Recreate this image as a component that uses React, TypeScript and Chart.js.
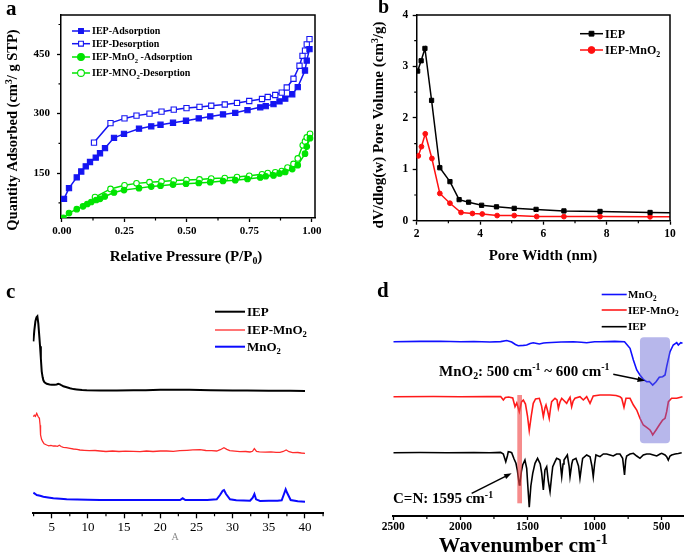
import React, { useEffect, useRef } from 'react';
import { Chart, registerables } from 'chart.js';

Chart.register(...registerables);

const SERIF = '"Liberation Serif", "Times New Roman", Times, serif';

// ================= (a) N2 adsorption / desorption isotherms =================
const isoLabels = ['IEP-Adsorption', 'IEP-Desorption', 'IEP-MnO_{2} -Adsorption', 'IEP-MNO_{2}-Desorption'];
const iepAdsP = [0.009, 0.029, 0.06, 0.078, 0.096, 0.113, 0.136, 0.153, 0.173, 0.209, 0.249, 0.309, 0.358, 0.395, 0.445, 0.497, 0.548, 0.594, 0.645, 0.694, 0.743, 0.794, 0.816, 0.847, 0.871, 0.894, 0.922, 0.944, 0.973, 0.98, 0.991];
const iepAdsQ = [85, 112, 139, 154, 167, 178, 189, 200, 213, 239, 249, 262, 268, 272, 277, 282, 288, 293, 298, 302, 309, 316, 319, 324, 331, 338, 349, 367, 409, 434, 463];
const iepDesP = [0.129, 0.195, 0.251, 0.299, 0.351, 0.399, 0.448, 0.499, 0.551, 0.598, 0.652, 0.701, 0.75, 0.801, 0.824, 0.854, 0.88, 0.9, 0.927, 0.951, 0.963, 0.973, 0.98, 0.991];
const iepDesQ = [227, 276, 288, 295, 300, 305, 310, 314, 317, 320, 323, 327, 332, 337, 342, 347, 353, 366, 388, 421, 446, 459, 475, 488];
const mnAdsP = [0.007, 0.029, 0.06, 0.085, 0.102, 0.118, 0.138, 0.153, 0.172, 0.209, 0.249, 0.309, 0.358, 0.395, 0.445, 0.497, 0.548, 0.594, 0.645, 0.694, 0.743, 0.794, 0.816, 0.847, 0.871, 0.894, 0.922, 0.944, 0.973, 0.98, 0.993];
const mnAdsQ = [37, 49, 59, 66, 72, 77, 82, 85, 91, 101, 107, 112, 116, 118, 121, 123, 125, 127, 130, 132, 135, 139, 142, 144, 149, 153, 160, 170, 199, 217, 238];
const mnDesP = [0.133, 0.195, 0.251, 0.299, 0.351, 0.399, 0.448, 0.499, 0.551, 0.598, 0.652, 0.701, 0.75, 0.801, 0.824, 0.854, 0.88, 0.903, 0.927, 0.944, 0.964, 0.973, 0.98, 0.993];
const mnDesQ = [89.5, 110, 119, 124, 127, 129, 131, 132.5, 134, 136, 137.5, 140, 143, 147, 150, 152, 155, 164, 173, 187, 220, 230, 240, 249];
const isoTicksX = [0, 0.25, 0.5, 0.75, 1.0];
const isoTicksY = [150, 300, 450];

// ================= (b) pore size distribution =================
const psdLabels = ['IEP', 'IEP-MnO_{2}'];
const psdIepW = [2.03, 2.14, 2.26, 2.47, 2.73, 3.05, 3.34, 3.64, 4.05, 4.52, 5.08, 5.77, 6.65, 7.79, 9.37, 10];
const psdIepV = [2.91, 3.11, 3.35, 2.34, 1.03, 0.76, 0.41, 0.36, 0.3, 0.27, 0.24, 0.22, 0.19, 0.18, 0.16, 0.155];
const psdMnW = [2.05, 2.15, 2.27, 2.48, 2.73, 3.05, 3.4, 3.76, 4.07, 4.54, 5.08, 5.79, 6.65, 7.79, 9.37, 10];
const psdMnV = [1.26, 1.44, 1.69, 1.21, 0.53, 0.34, 0.16, 0.14, 0.13, 0.1, 0.1, 0.08, 0.08, 0.08, 0.075, 0.075];
const psdTicksX = [2, 4, 6, 8, 10];
const psdTicksY = [0, 1, 2, 3, 4];

// ================= (c) XRD patterns (stacked, a.u.) =================
const xrdLabels = ['IEP', 'IEP-MnO_{2}', 'MnO_{2}'];
const xrdIepX = [2.47, 2.6, 2.75, 2.9, 3.02, 3.15, 3.3, 3.39, 3.5, 3.62, 3.75, 3.85, 4.0, 4.31, 4.7, 5.0, 5.4, 5.69, 5.9, 6.15, 6.4, 6.61, 7.07, 7.53, 8.0, 8.45, 9.2, 9.84, 11.7, 14, 16.3, 18, 20, 22, 24, 25.5, 27, 30, 32, 35, 38, 40];
const xrdIepI = [172, 183, 192, 196, 197, 190, 176, 167, 155, 142, 136, 133, 131, 129.5, 128.8, 128.5, 128.5, 128.8, 129.5, 129, 127.8, 127, 126, 125, 124.2, 123.8, 123.2, 123, 122.8, 122.8, 123, 123, 123.5, 123.6, 123.5, 123.3, 123, 122.8, 122.7, 122.6, 122.5, 122.4];
const xrdCompX = [2.46, 2.6, 2.75, 2.93, 3.1, 3.3, 3.4, 3.46, 3.6, 3.76, 3.95, 4.31, 4.6, 4.9, 5.23, 5.5, 5.8, 6.06, 6.3, 6.61, 7.0, 7.53, 8.0, 8.5, 8.9, 9.5, 10.2, 11.0, 11.7, 12.5, 13.4, 14.3, 15.2, 16.3, 17.2, 18.1, 19.0, 20.0, 20.9, 21.8, 22.7, 23.7, 24.5, 25.5, 26.3, 27.1, 27.8, 28.3, 28.8, 29.2, 29.6, 30.3, 31.0, 31.8, 32.4, 32.75, 33.0, 33.3, 33.7, 34.5, 35.3, 36.0, 36.55, 37.0, 37.4, 37.8, 38.3, 39.0, 39.5, 40.0];
const xrdCompI = [96.6, 98, 97, 100, 97, 95, 88, 78.3, 74, 71.6, 69.5, 68.3, 67.5, 68, 67.3, 67.5, 67, 68, 66.8, 66, 65.6, 65, 64.3, 64, 63.3, 63, 62.6, 62.8, 62.3, 61.8, 62.3, 61.8, 62.2, 62, 61.7, 62.3, 61.8, 62.3, 62.3, 62, 62.6, 63, 63.4, 63.6, 62.8, 62.6, 62.3, 63.6, 65.6, 64, 62.6, 62.2, 61.6, 61.8, 61.3, 62, 64.6, 61.8, 61.5, 61.2, 61.5, 61, 61, 61.8, 63.3, 61.6, 60.6, 60.8, 60.3, 60];
const xrdMnX = [2.47, 2.7, 2.93, 3.4, 3.85, 4.5, 5.23, 6.2, 7.07, 8.5, 10, 11.68, 14, 16.5, 19, 21, 22.73, 23.1, 23.47, 25, 26.5, 27.8, 28.26, 28.63, 28.81, 29.09, 29.64, 30.5, 31.5, 32.41, 32.78, 33.01, 33.24, 33.79, 35, 36.2, 36.78, 37.1, 37.33, 37.56, 38.02, 39, 40];
const xrdMnI = [20.6, 19.5, 18.3, 17.5, 16.6, 15.8, 15, 14.5, 14, 13.8, 13.5, 13.3, 13.2, 13.3, 13.2, 13.3, 13.3, 15, 13.3, 13.2, 13.3, 14, 18.3, 22.6, 23.3, 19.3, 14, 13, 12.8, 12.6, 15.6, 19.3, 14, 12.3, 12.5, 12.5, 13, 19.3, 24, 20, 13.3, 12, 11.6];
const xrdTicksX = [5, 10, 15, 20, 25, 30, 35, 40];

// ================= (d) FTIR spectra (stacked, a.u.) =================
const ftirLabels = ['MnO_{2}', 'IEP-MnO_{2}', 'IEP'];
const ftirMnWn = [2500, 2300, 2150, 2000, 1900, 1780, 1700, 1655, 1618, 1590, 1569, 1530, 1506, 1480, 1457, 1430, 1412, 1380, 1357, 1250, 1159, 1100, 1059, 1000, 960, 850, 777, 736, 711, 686, 662, 637, 612, 592, 567, 542, 518, 493, 475, 463, 438, 414, 388, 376, 358, 345];
const ftirMnT = [174.3, 174.6, 174.7, 174.3, 174.5, 174.0, 174.4, 175.5, 174.0, 171.5, 170.3, 170.6, 171.0, 172.5, 173.3, 172.5, 172.0, 173.0, 173.3, 174.0, 174.3, 173.8, 173.3, 174.2, 174.3, 174.6, 174.3, 167.7, 156, 146, 141, 136.7, 134.3, 134.5, 131, 134.3, 138.7, 139.3, 141, 149.3, 164.3, 171, 173.3, 171, 173.3, 172.7];
const ftirCompWn = [2500, 2200, 2000, 1800, 1700, 1680, 1665, 1640, 1610, 1593, 1580, 1561, 1545, 1531, 1515, 1500, 1487, 1472, 1457, 1440, 1412, 1395, 1382, 1370, 1362, 1350, 1338, 1328, 1320, 1295, 1280, 1270, 1258, 1245, 1208, 1195, 1183, 1171, 1160, 1146, 1109, 1084, 1059, 1034, 1020, 1010, 960, 885, 840, 811, 798, 781, 766, 736, 711, 686, 662, 637, 612, 587, 575, 567, 542, 518, 493, 475, 463, 450, 426, 388, 345];
const ftirCompT = [119.3, 119.5, 119.2, 119.4, 119.5, 116, 118.5, 119, 118, 109.3, 113, 104.3, 114, 116, 112, 100, 85.3, 100, 112.7, 117, 117.7, 110, 99.3, 108, 111, 105, 97.7, 108, 114.3, 117.7, 116, 107.7, 114, 117.7, 112.7, 116, 118.7, 109.3, 115, 117.7, 119.3, 116, 119.3, 112.7, 117, 120, 121, 121, 120.5, 119.3, 117.7, 108.7, 117.7, 117.7, 111, 106, 97.7, 91, 88.7, 86, 83.3, 81, 86, 91, 96, 97.7, 104.3, 114.3, 117.7, 117.7, 119.3];
const ftirIepWn = [2500, 2300, 2100, 1900, 1780, 1700, 1680, 1662, 1650, 1643, 1630, 1618, 1600, 1586, 1576, 1561, 1556, 1545, 1536, 1519, 1506, 1495, 1487, 1475, 1461, 1444, 1425, 1405, 1394, 1382, 1370, 1357, 1345, 1332, 1320, 1312, 1295, 1283, 1270, 1258, 1245, 1235, 1228, 1203, 1190, 1183, 1170, 1163, 1139, 1120, 1109, 1095, 1089, 1059, 1034, 1020, 1010, 1000, 990, 960, 935, 910, 885, 861, 836, 811, 791, 777, 768, 761, 736, 711, 686, 662, 637, 612, 587, 562, 537, 512, 500, 475, 463, 451, 438, 426, 400, 376, 351];
const ftirIepT = [63.3, 63.5, 63.2, 63.4, 63.3, 63.6, 62, 54.3, 60, 64.3, 64, 63.3, 57, 52.7, 46, 31, 33, 45, 51, 56, 47.7, 25, 8.7, 30, 42.7, 52.7, 57.7, 52, 42.7, 26, 46, 49.3, 35, 24.3, 40, 49.3, 54.3, 57.7, 57, 56, 39.3, 52, 56, 61, 50, 39.3, 52, 56, 57.7, 50, 37.7, 52, 57.7, 61, 59.3, 50, 39.3, 52, 61, 59.3, 62, 62, 61, 60, 62, 62, 57.7, 41, 56, 60, 62, 62.7, 60, 57.7, 61, 62, 62, 61, 60, 62, 62.7, 61, 59.3, 56, 60, 61, 62, 62.5, 63.3];
const ftirTicksX = [2500, 2000, 1500, 1000, 500];
const mnBandRange = [662, 438]; // shaded band (cm-1)
const mnBandT = [178.7, 72.7];
const cnBandRange = [1576, 1541]; // C=N highlight (cm-1)
const cnBandT = [121, 12.7];

// ================= helpers =================
const pts = (xs: number[], ys: number[]) => xs.map((x, i) => ({ x, y: ys[i] }));

type Part = { t: string; m: number };
function parseRich(s: string): Part[] {
  const out: Part[] = [];
  const re = /(\^\{[^}]*\}|_\{[^}]*\})/g;
  let last = 0;
  let m: RegExpExecArray | null;
  while ((m = re.exec(s))) {
    if (m.index > last) out.push({ t: s.slice(last, m.index), m: 0 });
    const tok = m[0];
    out.push({ t: tok.slice(2, -1), m: tok[0] === '^' ? 1 : -1 });
    last = m.index + tok.length;
  }
  if (last < s.length) out.push({ t: s.slice(last), m: 0 });
  return out;
}

function drawRich(ctx: CanvasRenderingContext2D, s: string, x: number, y: number, size: number,
  o: { weight?: string; align?: string; color?: string; rot?: number } = {}) {
  const parts = parseRich(s);
  const weight = o.weight ?? 'bold';
  const small = size * 0.66;
  const fontOf = (p: Part) => `${weight} ${p.m ? small : size}px ${SERIF}`;
  let w = 0;
  for (const p of parts) { ctx.font = fontOf(p); w += ctx.measureText(p.t).width; }
  ctx.save();
  ctx.translate(x, y);
  if (o.rot) ctx.rotate(o.rot);
  let cx = o.align === 'center' ? -w / 2 : o.align === 'right' ? -w : 0;
  ctx.fillStyle = o.color ?? '#000';
  ctx.textBaseline = 'alphabetic';
  ctx.textAlign = 'left';
  for (const p of parts) {
    ctx.font = fontOf(p);
    const dy = p.m === 1 ? -size * 0.36 : p.m === -1 ? size * 0.22 : 0;
    ctx.fillText(p.t, cx, dy + size * 0.33);
    cx += ctx.measureText(p.t).width;
  }
  ctx.restore();
}

function drawArrow(ctx: CanvasRenderingContext2D, x1: number, y1: number, x2: number, y2: number, lw = 1.6, head = 8) {
  const a = Math.atan2(y2 - y1, x2 - x1);
  ctx.save();
  ctx.strokeStyle = '#000';
  ctx.fillStyle = '#000';
  ctx.lineWidth = lw;
  ctx.beginPath();
  ctx.moveTo(x1, y1);
  ctx.lineTo(x2 - Math.cos(a) * head * 0.8, y2 - Math.sin(a) * head * 0.8);
  ctx.stroke();
  ctx.beginPath();
  ctx.moveTo(x2, y2);
  ctx.lineTo(x2 - head * Math.cos(a - 0.35), y2 - head * Math.sin(a - 0.35));
  ctx.lineTo(x2 - head * Math.cos(a + 0.35), y2 - head * Math.sin(a + 0.35));
  ctx.closePath();
  ctx.fill();
  ctx.restore();
}

function minorTicks(ctx: CanvasRenderingContext2D, chart: any, axis: 'x' | 'y', vals: number[], len: number, lw = 1.2) {
  const s = chart.scales[axis];
  const ca = chart.chartArea;
  ctx.save();
  ctx.strokeStyle = '#000';
  ctx.lineWidth = lw;
  ctx.beginPath();
  for (const v of vals) {
    const p = s.getPixelForValue(v);
    if (axis === 'x') { ctx.moveTo(p, ca.bottom); ctx.lineTo(p, ca.bottom + len); }
    else { ctx.moveTo(ca.left, p); ctx.lineTo(ca.left - len, p); }
  }
  ctx.stroke();
  ctx.restore();
}

function frameTopRight(ctx: CanvasRenderingContext2D, chart: any, lw: number) {
  const ca = chart.chartArea;
  ctx.save();
  ctx.strokeStyle = '#000';
  ctx.lineWidth = lw;
  ctx.beginPath();
  ctx.moveTo(ca.left, ca.top);
  ctx.lineTo(ca.right, ca.top);
  ctx.lineTo(ca.right, ca.bottom);
  ctx.stroke();
  ctx.restore();
}

function drawMarker(ctx: CanvasRenderingContext2D, style: string, x: number, y: number, r: number, stroke: string, fill: string, lw: number) {
  ctx.save();
  ctx.beginPath();
  if (style === 'rect') { const s = r / Math.SQRT2; ctx.rect(x - s, y - s, 2 * s, 2 * s); }
  else ctx.arc(x, y, r, 0, Math.PI * 2);
  ctx.fillStyle = fill;
  ctx.fill();
  ctx.lineWidth = lw;
  ctx.strokeStyle = stroke;
  ctx.stroke();
  ctx.restore();
}

function drawLegend(ctx: CanvasRenderingContext2D, chart: any, items: { ds: number; label: string; y: number }[],
  o: { x1: number; x2: number; tx: number; size: number; marker: boolean }) {
  for (const it of items) {
    const d = chart.data.datasets[it.ds];
    ctx.save();
    ctx.strokeStyle = d.borderColor;
    ctx.lineWidth = d.borderWidth;
    ctx.beginPath();
    ctx.moveTo(o.x1, it.y);
    ctx.lineTo(o.x2, it.y);
    ctx.stroke();
    ctx.restore();
    if (o.marker) {
      drawMarker(ctx, d.pointStyle, (o.x1 + o.x2) / 2, it.y, 3.4, d.pointBorderColor, d.pointBackgroundColor, d.pointBorderWidth);
    }
    drawRich(ctx, it.label, o.tx, it.y, o.size, { weight: 'bold' });
  }
}

function deco(id: string, after: (chart: any, ctx: CanvasRenderingContext2D) => void,
  overlay?: (chart: any, ctx: CanvasRenderingContext2D) => void) {
  return {
    id,
    afterDatasetsDraw(chart: any) {
      if (!overlay) return;
      const ctx = chart.ctx;
      ctx.save();
      overlay(chart, ctx);
      ctx.restore();
    },
    afterDraw(chart: any) {
      const ctx = chart.ctx;
      ctx.save();
      after(chart, ctx);
      ctx.restore();
    },
  };
}

function linAxis(min: number, max: number, major: number[], o: {
  size: number; weight: string; pad: number; tickLen: number; borderW: number; fit: (s: any) => void;
  fmt?: (v: number) => string; reverse?: boolean;
}) {
  return {
    type: 'linear',
    min,
    max,
    reverse: !!o.reverse,
    afterBuildTicks: (s: any) => { s.ticks = major.map((v) => ({ value: v })); },
    ticks: {
      autoSkip: false, maxRotation: 0, minRotation: 0, padding: o.pad, color: '#000',
      font: { family: SERIF, size: o.size, weight: o.weight },
      callback: (v: any) => (o.fmt ? o.fmt(Number(v)) : String(v)),
    },
    grid: { display: true, drawOnChartArea: false, drawTicks: true, tickLength: o.tickLen, tickWidth: 1.3, tickColor: '#000' },
    border: { display: true, color: '#000', width: o.borderW },
    afterFit: o.fit,
  };
}

const baseOptions = (padding: any, scales: any) => ({
  animation: false,
  responsive: false,
  maintainAspectRatio: false,
  devicePixelRatio: 1,
  events: [],
  layout: { padding },
  plugins: { legend: { display: false }, tooltip: { enabled: false }, title: { display: false } },
  scales,
});

// ================= chart builders =================
const BLUE = '#1515f2';
const GREEN = '#00e400';

function buildA(): any {
  const mk = (label: string, xs: number[], ys: number[], color: string, style: string, open: boolean) => ({
    label, data: pts(xs, ys), showLine: true, borderColor: color, borderWidth: 1.5,
    pointStyle: style, pointRadius: style === 'rect' ? 3.7 : 2.8, pointBorderWidth: 1.1,
    pointBorderColor: color, pointBackgroundColor: open ? '#fff' : color, backgroundColor: color,
  });
  return {
    type: 'scatter',
    data: {
      datasets: [
        mk(isoLabels[0], iepAdsP, iepAdsQ, BLUE, 'rect', false),
        mk(isoLabels[1], iepDesP, iepDesQ, BLUE, 'rect', true),
        mk(isoLabels[2], mnAdsP, mnAdsQ, GREEN, 'circle', false),
        mk(isoLabels[3], mnDesP, mnDesQ, GREEN, 'circle', true),
      ],
    },
    options: baseOptions({ left: 0, top: 15, right: 25, bottom: 0 }, {
      x: linAxis(-0.003, 1.013, isoTicksX, { size: 11, weight: 'bold', pad: 3, tickLen: 4, borderW: 1.5, fit: (s) => { s.height = 62; }, fmt: (v) => v.toFixed(2) }),
      y: linAxis(36.6, 549, isoTicksY, { size: 11, weight: 'bold', pad: 7, tickLen: 4, borderW: 1.5, fit: (s) => { s.width = 61; } }),
    }),
    plugins: [deco('decoA', (chart, ctx) => {
      frameTopRight(ctx, chart, 1.5);
      minorTicks(ctx, chart, 'x', [0.125, 0.375, 0.625, 0.875], 2.5);
      minorTicks(ctx, chart, 'y', [75, 225, 375, 525], 2.5);
      drawRich(ctx, 'Quantity Adsorbed (cm^{3}/ g STP)', 12, 130, 14.5, { align: 'center', rot: -Math.PI / 2 });
      drawRich(ctx, 'Relative Pressure (P/P_{0})', 186, 256, 15, { align: 'center' });
      ctx.font = `bold 21px ${SERIF}`;
      ctx.fillStyle = '#000';
      ctx.textBaseline = 'alphabetic';
      ctx.fillText('a', 6, 15);
      drawLegend(ctx, chart, [
        { ds: 0, label: isoLabels[0], y: 31 },
        { ds: 1, label: isoLabels[1], y: 43.7 },
        { ds: 2, label: isoLabels[2], y: 57 },
        { ds: 3, label: isoLabels[3], y: 73 },
      ], { x1: 72, x2: 90, tx: 92, size: 10, marker: true });
    })],
  };
}

function buildB(): any {
  const last = psdIepW.length - 1;
  const mk = (label: string, xs: number[], ys: number[], color: string, style: string) => ({
    label, data: pts(xs, ys), showLine: true, borderColor: color, borderWidth: 1.5,
    pointStyle: style,
    pointRadius: (c: any) => (c.dataIndex === last ? 0 : style === 'rect' ? 3.0 : 2.4),
    pointBorderWidth: 1, pointBorderColor: color, pointBackgroundColor: color, backgroundColor: color,
  });
  return {
    type: 'scatter',
    data: {
      datasets: [
        mk(psdLabels[0], psdIepW, psdIepV, '#000000', 'rect'),
        mk(psdLabels[1], psdMnW, psdMnV, '#ff1010', 'circle'),
      ],
    },
    options: baseOptions({ left: 0, top: 15, right: 15, bottom: 0 }, {
      x: linAxis(2, 10, psdTicksX, { size: 11.5, weight: 'bold', pad: 2, tickLen: 4, borderW: 1.5, fit: (s) => { s.height = 59.3; } }),
      y: linAxis(0, 4, psdTicksY, { size: 11.5, weight: 'bold', pad: 4.5, tickLen: 4, borderW: 1.5, fit: (s) => { s.width = 76.7; } }),
    }),
    plugins: [deco('decoB', (chart, ctx) => {
      frameTopRight(ctx, chart, 1.5);
      minorTicks(ctx, chart, 'x', [3, 5, 7, 9], 2.5);
      minorTicks(ctx, chart, 'y', [0.5, 1.5, 2.5, 3.5], 2.5);
      drawRich(ctx, 'dV/dlog(w) Pore Volume (cm^{3}/g)', 38.3, 125, 15, { align: 'center', rot: -Math.PI / 2 });
      drawRich(ctx, 'Pore Width (nm)', 203, 255, 15, { align: 'center' });
      ctx.font = `bold 20px ${SERIF}`;
      ctx.fillStyle = '#000';
      ctx.textBaseline = 'alphabetic';
      ctx.fillText('b', 38, 13);
      drawLegend(ctx, chart, [
        { ds: 0, label: psdLabels[0], y: 33.7 },
        { ds: 1, label: psdLabels[1], y: 50 },
      ], { x1: 240, x2: 263, tx: 265, size: 12, marker: true });
    })],
  };
}

function buildC(): any {
  const mk = (label: string, xs: number[], ys: number[], color: string, w: number) => ({
    label, data: pts(xs, ys), showLine: true, borderColor: color, borderWidth: w, pointRadius: 0,
    backgroundColor: color,
  });
  return {
    type: 'scatter',
    data: {
      datasets: [
        mk(xrdLabels[0], xrdIepX, xrdIepI, '#000000', 2),
        mk(xrdLabels[1], xrdCompX, xrdCompI, '#ff2b2b', 1.3),
        mk(xrdLabels[2], xrdMnX, xrdMnI, '#0a0aff', 2),
      ],
    },
    options: baseOptions({ left: 32.7, top: 20, right: 16.7, bottom: 0 }, {
      x: linAxis(2.375, 42.53, xrdTicksX, { size: 13, weight: 'normal', pad: 1, tickLen: 5, borderW: 2, fit: (s) => { s.height = 40.7; } }),
      y: { type: 'linear', min: 0, max: 213.3, display: false },
    }),
    plugins: [deco('decoC', (chart, ctx) => {
      minorTicks(ctx, chart, 'x', [2.5, 7.5, 12.5, 17.5, 22.5, 27.5, 32.5, 37.5, 42.5], 3);
      drawRich(ctx, 'A', 175, 256.7, 10, { align: 'center', weight: 'normal', color: '#8a8a8a' });
      ctx.font = `bold 21px ${SERIF}`;
      ctx.fillStyle = '#000';
      ctx.textBaseline = 'alphabetic';
      ctx.fillText('c', 6, 18);
      drawLegend(ctx, chart, [
        { ds: 0, label: xrdLabels[0], y: 31.7 },
        { ds: 1, label: xrdLabels[1], y: 50 },
        { ds: 2, label: xrdLabels[2], y: 66.7 },
      ], { x1: 215, x2: 245, tx: 247, size: 13, marker: false });
    })],
  };
}

function buildD(): any {
  const mk = (label: string, xs: number[], ys: number[], color: string) => ({
    label, data: pts(xs, ys), showLine: true, borderColor: color, borderWidth: 1.6, pointRadius: 0,
    backgroundColor: color,
  });
  const roundRect = (ctx: CanvasRenderingContext2D, x: number, y: number, w: number, h: number, r: number) => {
    ctx.beginPath();
    ctx.moveTo(x + r, y);
    ctx.lineTo(x + w - r, y);
    ctx.quadraticCurveTo(x + w, y, x + w, y + r);
    ctx.lineTo(x + w, y + h - r);
    ctx.quadraticCurveTo(x + w, y + h, x + w - r, y + h);
    ctx.lineTo(x + r, y + h);
    ctx.quadraticCurveTo(x, y + h, x, y + h - r);
    ctx.lineTo(x, y + r);
    ctx.quadraticCurveTo(x, y, x + r, y);
    ctx.closePath();
  };
  return {
    type: 'scatter',
    data: {
      datasets: [
        mk(ftirLabels[0], ftirMnWn, ftirMnT, '#1010ff'),
        mk(ftirLabels[1], ftirCompWn, ftirCompT, '#ff1a1a'),
        mk(ftirLabels[2], ftirIepWn, ftirIepT, '#000000'),
      ],
    },
    options: baseOptions({ left: 53.3, top: 10, right: 1.7, bottom: 0 }, {
      x: linAxis(339, 2500, ftirTicksX, { size: 11.5, weight: 'bold', pad: 0, tickLen: 4, borderW: 2, reverse: true, fit: (s) => { s.height = 38; } }),
      y: { type: 'linear', min: 0, max: 226, display: false },
    }),
    plugins: [deco('decoD', (chart, ctx) => {
      const xs = chart.scales.x;
      const ys = chart.scales.y;
      minorTicks(ctx, chart, 'x', [2250, 1750, 1250, 750], 3);
      drawRich(ctx, 'Wavenumber cm^{-1}', 183.3, 264.5, 21.5, { align: 'center' });
      ctx.font = `bold 21px ${SERIF}`;
      ctx.fillStyle = '#000';
      ctx.textBaseline = 'alphabetic';
      ctx.fillText('d', 37, 17);
      // annotations
      drawRich(ctx, 'MnO_{2}: 500 cm^{-1} ~ 600 cm^{-1}', 99, 90.7, 15, { align: 'left' });
      drawArrow(ctx, xs.getPixelForValue(861), ys.getPixelForValue(141.7), xs.getPixelForValue(624), ys.getPixelForValue(135.3), 1.5, 8);
      drawRich(ctx, 'C=N: 1595 cm^{-1}', 53, 218, 15, { align: 'left' });
      drawArrow(ctx, xs.getPixelForValue(1916), ys.getPixelForValue(22.7), xs.getPixelForValue(1618), ys.getPixelForValue(42.7), 1.5, 8);
      drawLegend(ctx, chart, [
        { ds: 0, label: ftirLabels[0], y: 14.5 },
        { ds: 1, label: ftirLabels[1], y: 30 },
        { ds: 2, label: ftirLabels[2], y: 46.7 },
      ], { x1: 261.7, x2: 286.7, tx: 288, size: 11, marker: false });
    }, (chart, ctx) => {
      const xs = chart.scales.x;
      const ys = chart.scales.y;
      // MnO2 band
      const bx1 = xs.getPixelForValue(mnBandRange[0]);
      const bx2 = xs.getPixelForValue(mnBandRange[1]);
      const by1 = ys.getPixelForValue(mnBandT[0]);
      const by2 = ys.getPixelForValue(mnBandT[1]);
      ctx.fillStyle = 'rgba(95, 95, 210, 0.45)';
      roundRect(ctx, bx1, by1, bx2 - bx1, by2 - by1, 4);
      ctx.fill();
      // C=N band
      const cx1 = xs.getPixelForValue(cnBandRange[0]);
      const cx2 = xs.getPixelForValue(cnBandRange[1]);
      const cy1 = ys.getPixelForValue(cnBandT[0]);
      const cy2 = ys.getPixelForValue(cnBandT[1]);
      ctx.fillStyle = 'rgba(240, 70, 70, 0.62)';
      ctx.fillRect(cx1, cy1, cx2 - cx1, cy2 - cy1);
    })],
  };
}

function ChartBox({ left, top, width, height, build }: { left: number; top: number; width: number; height: number; build: () => any }) {
  const ref = useRef<HTMLCanvasElement>(null);
  useEffect(() => {
    const chart = new Chart(ref.current as HTMLCanvasElement, build());
    return () => chart.destroy();
  }, []);
  return (
    <canvas ref={ref} width={width} height={height}
      style={{ position: 'absolute', left, top, width, height, display: 'block' }} />
  );
}

export default function App() {
  return (
    <div style={{ position: 'absolute', left: 0, top: 0, width: 685, height: 554, background: '#fff', overflow: 'hidden' }}>
      <ChartBox left={0} top={0} width={340} height={280} build={buildA} />
      <ChartBox left={340} top={0} width={345} height={280} build={buildB} />
      <ChartBox left={0} top={280} width={340} height={274} build={buildC} />
      <ChartBox left={340} top={280} width={345} height={274} build={buildD} />
    </div>
  );
}
